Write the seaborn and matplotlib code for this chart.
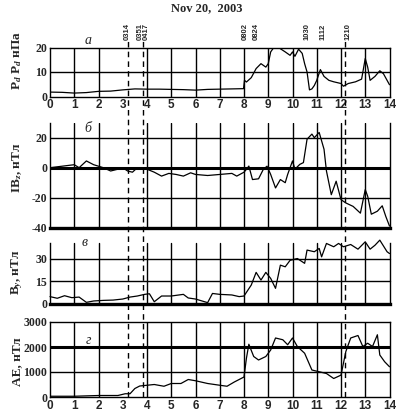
import numpy as np
import pandas as pd
import matplotlib
matplotlib.use("Agg")
import matplotlib.pyplot as plt
import seaborn as sns
from matplotlib.lines import Line2D
from matplotlib.transforms import blended_transform_factory

# ---- data (UT hours) ----
t_pd = [0, 0.5, 1, 1.5, 2, 2.5, 3, 3.5, 4, 4.5, 5, 5.5, 6, 6.5, 7, 7.5, 7.98, 8.02, 8.1, 8.3,
        8.5, 8.7, 8.9, 9.0, 9.1, 9.3, 9.5, 9.7, 9.9, 10.0, 10.1, 10.25, 10.4, 10.5, 10.6, 10.7,
        10.8, 10.9, 11.0, 11.15, 11.3, 11.5, 11.7, 12.0, 12.1, 12.3, 12.6, 12.85, 13.0, 13.1,
        13.2, 13.4, 13.6, 13.75, 13.9, 14]
pd_vals = [1.8, 1.7, 1.4, 1.6, 2.1, 2.2, 2.7, 3.1, 3.0, 3.0, 2.9, 2.8, 2.6, 2.9, 3.0, 3.1, 3.2, 6.6, 5.9, 7.7,
           11.4, 13.4, 12.0, 13.4, 18.2, 21.0, 19.5, 18.2, 16.8, 18.2, 16.4, 19.3, 17.6, 13.4, 10.0, 2.7,
           3.1, 4.5, 6.6, 11.0, 8.2, 6.6, 6.0, 5.3, 4.2, 5.3, 6.0, 7.1, 15.5, 12.0,
           6.6, 8.2, 10.5, 9.3, 6.6, 4.8]

t_bz = [0, 0.5, 1, 1.2, 1.5, 1.8, 2, 2.2, 2.5, 2.8, 3, 3.2, 3.4, 3.6, 3.8, 4.0, 4.3, 4.6, 4.9, 5.2,
        5.5, 5.8, 6.0, 6.5, 7.0, 7.5, 7.7, 8.0, 8.1, 8.2, 8.35, 8.6, 8.8, 8.95, 9.1, 9.3, 9.5, 9.7,
        9.8, 10.0, 10.1, 10.3, 10.45, 10.6, 10.8, 10.9, 11.1, 11.3, 11.4, 11.6, 11.8, 12.0, 12.2,
        12.5, 12.8, 13.0, 13.1, 13.25, 13.5, 13.7, 13.85, 14]
bz_vals = [0, 1, 2, 0, 4.5, 2, 1, 0, -2.2, -1, 0, -2.2, -3, 0, -1, -1, -3, -5.6, -3.8, -4.5,
           -5.6, -3.4, -4.5, -5.2, -4.5, -3.8, -5.6, -3, -1.1, 1.1, -7.9, -7.4, -1, 1, -4.5, -13.5, -7.9, -10,
           -4.5, 4.5, -1, 2.2, 3.4, 19, 22.4, 20, 23.5, 12.3, -2.2, -18, -9, -21.3, -23.5,
           -25.8, -30.3, -14.6, -19, -31, -29, -25.4, -32.6, -38.9]

t_by = [0, 0.3, 0.6, 0.9, 1.2, 1.5, 1.8, 2.2, 2.6, 3.0, 3.3, 3.6, 3.9, 4.1, 4.3, 4.6, 5.0, 5.5, 5.7, 6.0,
        6.5, 6.7, 7.0, 7.5, 7.8, 8.0, 8.3, 8.5, 8.7, 8.9, 9.1, 9.3, 9.5, 9.7, 9.9, 10.2, 10.5, 10.6,
        10.9, 11.1, 11.2, 11.4, 11.7, 11.9, 12.1, 12.4, 12.7, 13.0, 13.2, 13.4, 13.6, 13.9, 14]
by_vals = [4.9, 3.8, 5.5, 4.2, 4.6, 1.1, 2.0, 2.4, 2.6, 3.3, 4.6, 5.3, 6.4, 6.8, 1.5, 5.3, 5.3, 6.4, 4.0, 3.3,
           0.9, 7.0, 6.4, 6.0, 4.9, 5.3, 12.6, 21.0, 15.9, 21.0, 17.0, 10.4, 25.8, 24.7, 29.0, 30.2, 27.0, 35.8,
           34.7, 36.9, 31.3, 40.2, 38.0, 40.2, 38.0, 39.5, 36.4, 41.3, 36.4, 39.0, 42.4, 34.7, 33.5]

t_ae = [0, 1, 2, 2.8, 3.1, 3.3, 3.5, 3.7, 4.0, 4.3, 4.7, 5.0, 5.4, 5.7, 6.0, 6.5, 7.0, 7.3, 7.6, 8.0,
        8.1, 8.2, 8.4, 8.6, 8.9, 9.1, 9.3, 9.6, 9.8, 10.0, 10.2, 10.5, 10.8, 11.1, 11.4, 11.7, 12.0,
        12.2, 12.4, 12.7, 12.9, 13.1, 13.3, 13.5, 13.6, 13.8, 14]
ae_vals = [30, 30, 60, 60, 130, 130, 340, 440, 470, 500, 430, 540, 540, 700, 650, 540, 470, 430, 600, 800,
           1550, 2110, 1620, 1480, 1620, 1880, 2360, 2290, 2090, 2360, 2020, 1750, 1080, 1010, 940, 740, 875,
           1820, 2360, 2460, 2020, 2150, 2020, 2490, 1680, 1410, 1210]

hours = list(range(15))
event_labels = ["0314", "0351", "0417", "0802", "0824", "1030", "1112", "1210"]
dashed_events = ["0314", "0351", "1210"]
# small shifts (hours) so the rotated labels do not overlap
label_nudge = [-0.04, -0.13, -0.31, 0.0, 0.09, 0.1, 0.07, 0.12]

panel_letters = ["а", "б", "в", "г"]
ylabels = ["P$_d$ P$_d$ нПа", "IB$_z$, нТл", "B$_y$, нТл", "AE, нТл"]


def hhmm(s):
    return int(s[:2]) + int(s[2:]) / 60


sns.set_theme(style="white")
plt.rcParams["font.family"] = ["Liberation Serif", "DejaVu Serif"]
plt.rcParams["mathtext.fontset"] = "custom"
plt.rcParams["mathtext.rm"] = "Liberation Serif:bold"
plt.rcParams["mathtext.it"] = "Liberation Serif:italic:bold"
plt.rcParams["axes.unicode_minus"] = False

W, H = 397, 412
fig = plt.figure(figsize=(W / 100, H / 100), dpi=100)


def rect(top, bottom):
    return [50 / W, 1 - bottom / H, 339.5 / W, (bottom - top) / H]


ax_a = fig.add_axes(rect(47.5, 96.5))
ax_b = fig.add_axes(rect(122.7, 227.7))
ax_c = fig.add_axes(rect(243, 304))
ax_d = fig.add_axes(rect(322, 397))
axes = [ax_a, ax_b, ax_c, ax_d]

series = [(t_pd, pd_vals), (t_bz, bz_vals), (t_by, by_vals), (t_ae, ae_vals)]
for ax, (tt, vv) in zip(axes, series):
    df = pd.DataFrame({"t": tt, "v": vv})
    sns.lineplot(data=df, x="t", y="v", ax=ax, color="black", lw=0.9,
                 estimator=None, sort=False, legend=False)
    ax.set_xlim(0, 14)
    ax.set_xlabel("")
    ax.set_ylabel("")
    ax.set_xticks(hours)
    ax.tick_params(length=0, pad=2)
    for h in hours[1:-1]:
        if h != 3:
            ax.axvline(h, color="black", lw=1, zorder=1)
    for sp in ax.spines.values():
        sp.set_color("black")
        sp.set_linewidth(1)

ax_a.set_ylim(0, 20)
ax_a.set_yticks([0, 10, 20])
ax_a.axhline(10, color="black", lw=1)

ax_b.set_ylim(-40, 30)
ax_b.set_yticks([-40, -20, 0, 20])
for y in (-20, 20):
    ax_b.axhline(y, color="black", lw=1)
ax_b.axhline(0, color="black", lw=2.2)
ax_b.spines["top"].set_visible(False)
ax_b.spines["bottom"].set_linewidth(2.4)

ax_c.set_ylim(0, 40.5)
ax_c.set_yticks([0, 15, 30])
for y in (15, 30):
    ax_c.axhline(y, color="black", lw=1)
ax_c.spines["top"].set_visible(False)
ax_c.spines["bottom"].set_linewidth(2.4)
for ln in ax_c.lines:
    ln.set_clip_on(False)

ax_d.set_ylim(0, 3000)
ax_d.set_yticks([0, 1000, 2000, 3000])
ax_d.axhline(1000, color="black", lw=1)
ax_d.axhline(2000, color="black", lw=2.2)

for ax in axes:
    for lab in ax.get_yticklabels():
        lab.set_fontweight("bold")
        lab.set_fontsize(8.5)
for ax in (ax_b, ax_c):
    ax.set_xticklabels([])
for ax in (ax_a, ax_d):
    ax.set_xticklabels([str(h) for h in hours], fontfamily="Liberation Sans",
                       fontweight="bold", fontsize=8.5)

# panel letters
letter_pos = [(88, 40), (88, 129), (85, 243), (88, 341)]
for s, (px, py) in zip(panel_letters, letter_pos):
    fig.text(px / W, 1 - py / H, s, style="italic", fontsize=10, ha="center", va="center")

# y labels
ylab_pos = [60, 168, 272, 362]
for s, py in zip(ylabels, ylab_pos):
    fig.text(17 / W, 1 - py / H, s, rotation=90, fontweight="bold", fontsize=9.5,
             ha="center", va="center")

fig.text(207 / W, 1 - 8 / H, "Nov 20,  2003", fontweight="bold", fontsize=9,
         ha="center", va="center")

# event markers: dashed lines through all panels and rotated time labels
trans = blended_transform_factory(ax_a.transData, fig.transFigure)
for s in dashed_events:
    x = hhmm(s)
    fig.add_artist(Line2D([x, x], [1 - 397 / H, 1 - 40 / H], transform=trans,
                          color="black", lw=1, linestyle=(0, (4, 3))))
for s, dx in zip(event_labels, label_nudge):
    fig.text(hhmm(s) + dx, 1 - 39.5 / H, s, transform=trans, rotation=90,
             fontfamily="Liberation Sans", fontweight="bold", fontsize=5.5,
             ha="center", va="bottom")

fig.savefig("out.png", dpi=100)
